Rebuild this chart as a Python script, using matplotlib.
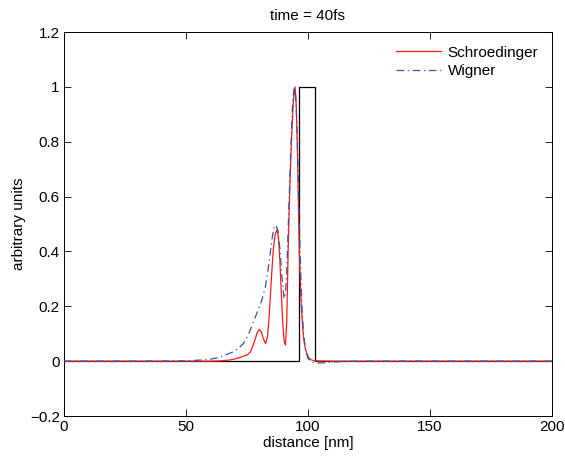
import matplotlib
matplotlib.use("Agg")
import matplotlib.pyplot as plt

plt.rcParams['font.family'] = ['Liberation Sans', 'DejaVu Sans']

# Schroedinger (red solid)
schr_x = [0, 60, 64, 68, 71, 73.5, 75, 76.5, 78, 79.2, 80, 80.8, 81.8, 82.6, 83.4, 84.0, 84.6,
          85.2, 85.8, 86.5, 87.3, 87.9, 88.5, 89.1, 89.7, 90.3, 90.8, 91.3, 91.9, 92.6, 93.3,
          94.0, 94.7, 95.2, 95.7, 96.1, 96.5, 97.0, 97.4, 98.1, 98.8, 99.5, 100.5, 101.5, 103,
          110, 200]
schr_y = [0, 0, 0.001, 0.004, 0.01, 0.018, 0.022, 0.035, 0.07, 0.105, 0.115, 0.108, 0.08, 0.064,
          0.09, 0.15, 0.24, 0.33, 0.41, 0.46, 0.48, 0.45, 0.36, 0.24, 0.13, 0.07, 0.058, 0.15,
          0.42, 0.65, 0.82, 0.95, 1.0, 0.93, 0.75, 0.55, 0.38, 0.25, 0.18, 0.09, 0.05, 0.028,
          0.01, 0.004, 0.001, 0, 0]

# Wigner (blue dash-dot)
wig_x = [0, 40, 50, 55.7, 60, 62.6, 66, 69.4, 71.5, 73.5, 75.5, 77.3, 79.0, 81.0, 82.5, 83.6,
         84.6, 85.5, 86.2, 86.9, 87.7, 88.5, 89.3, 90.2, 90.8, 91.3, 91.8, 92.3, 92.9, 93.6,
         94.3, 94.9, 95.5, 96.0, 96.5, 97.0, 97.5, 98.2, 99.0, 100, 101, 102, 104, 107, 110,
         115, 125, 200]
wig_y = [0, 0, 0.001, 0.004, 0.007, 0.012, 0.022, 0.034, 0.047, 0.064, 0.095, 0.135, 0.174,
         0.22, 0.27, 0.33, 0.4, 0.46, 0.49, 0.496, 0.475, 0.41, 0.31, 0.228, 0.25, 0.33, 0.46,
         0.6, 0.76, 0.92, 1.0, 0.97, 0.86, 0.66, 0.48, 0.33, 0.2, 0.1, 0.04, 0.01, 0.0, -0.004,
         -0.007, -0.006, -0.003, -0.001, 0, 0]

# Barrier (black)
bar_x = [0, 96.5, 96.5, 103, 103, 200]
bar_y = [0, 0, 1, 1, 0, 0]

xticks = [0, 50, 100, 150, 200]
yticks = [-0.2, 0, 0.2, 0.4, 0.6, 0.8, 1.0, 1.2]
ytick_labels = ['\u22120.2', '0', '0.2', '0.4', '0.6', '0.8', '1', '1.2']

FS = 11

fig = plt.figure(figsize=(5.65, 4.57), dpi=100)
ax = fig.add_axes([64/565, 1-416/457, (552-64)/565, (416-32)/457])

ax.plot(bar_x, bar_y, color='black', lw=0.9, zorder=1)
ax.plot(schr_x, schr_y, color='#ff1a1a', lw=0.9, label='Schroedinger', zorder=2)
ax.plot(wig_x, wig_y, color='#3354a8', lw=0.9, ls=(0, (6, 3, 1, 3)), label='Wigner', zorder=3)

ax.set_xlim(0, 200)
ax.set_ylim(-0.2, 1.2)
ax.set_xticks(xticks)
ax.set_xticklabels([str(t) for t in xticks])
ax.set_yticks(yticks)
ax.set_yticklabels(ytick_labels)
ax.tick_params(direction='in', length=5, width=0.6, top=True, right=True, labelsize=FS, pad=3)
for s in ax.spines.values():
    s.set_linewidth(0.7)

ax.set_xlabel('distance [nm]', fontsize=FS, labelpad=1)
ax.set_ylabel('arbitrary units', fontsize=FS, labelpad=3)
ax.set_title('time = 40fs', fontsize=FS, pad=9)

ax.legend(loc='upper right', frameon=False, fontsize=FS, handlelength=2.95,
          handletextpad=0.4, borderaxespad=0.5, labelspacing=0.3)

fig.savefig('out.png', dpi=100)
